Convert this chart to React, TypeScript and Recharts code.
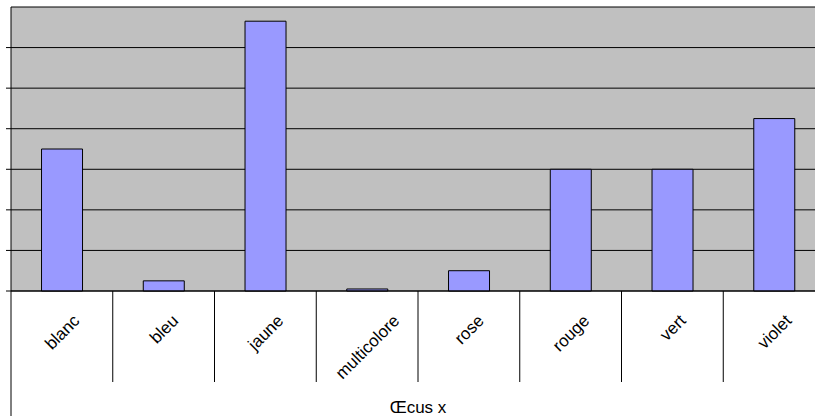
import { BarChart, Bar, XAxis, YAxis, CartesianGrid } from "recharts";

const categories = ["blanc", "bleu", "jaune", "multicolore", "rose", "rouge", "vert", "violet"];
const values = [3.5, 0.25, 6.65, 0.05, 0.5, 3, 3, 4.25];
const yTicks = [0, 1, 2, 3, 4, 5, 6];
const axisTitle = "Œcus x";

const data = categories.map((name, i) => ({ name, value: values[i] }));

// layout: plot runs past the right edge of the window, like the original
const W = 830;
const H = 416;
const MARGIN = { top: 7, right: 5, bottom: 0, left: 0 };
const Y_AXIS_W = 11;
const X_AXIS_H = 125;
const BAND = (W - MARGIN.left - MARGIN.right - Y_AXIS_W) / categories.length;
const AXIS_Y = H - MARGIN.bottom - X_AXIS_H;
const FONT = '"Liberation Sans", Arial, sans-serif';
const LABEL_SIZE = 17;
const LABEL_TOP = AXIS_Y + 22;

let measureCtx: CanvasRenderingContext2D | null = null;
function textWidth(s: string) {
  if (!measureCtx) measureCtx = document.createElement("canvas").getContext("2d");
  if (!measureCtx) return s.length * LABEL_SIZE * 0.5;
  measureCtx.font = `${LABEL_SIZE}px "Liberation Sans", Arial, sans-serif`;
  return measureCtx.measureText(s).width;
}

function EmptyTick() {
  return <g />;
}

// rotated labels, centred on the category, tops lined up
function CategoryTick(props: any) {
  const { x, index, payload } = props;
  const label = String(payload.value);
  const glyphH = LABEL_SIZE * 0.73;
  const w = textWidth(label);
  const tx = x + 0.3535 * (w + glyphH);
  const ty = LABEL_TOP + 0.707 * glyphH;
  return (
    <g>
      {index === 0 && (
        <line x1={x - BAND / 2} x2={x - BAND / 2} y1={AXIS_Y} y2={H} stroke="#000" />
      )}
      <line x1={x + BAND / 2} x2={x + BAND / 2} y1={AXIS_Y} y2={AXIS_Y + 91} stroke="#000" />
      <text
        x={tx}
        y={ty}
        textAnchor="end"
        transform={`rotate(-45 ${tx} ${ty})`}
        fontFamily={FONT}
        fontSize={LABEL_SIZE}
        fill="#000"
      >
        {label}
      </text>
    </g>
  );
}

function AxisTitle(props: any) {
  const { viewBox } = props;
  const cx = viewBox.x + viewBox.width / 2;
  return (
    <text x={cx} y={H - 3} textAnchor="middle" fontFamily={FONT} fontSize={17} fill="#000">
      {axisTitle}
    </text>
  );
}

export default function App() {
  return (
    <div
      style={{
        position: "absolute",
        top: 0,
        left: 0,
        width: 815,
        height: 416,
        overflow: "hidden",
        background: "#fff",
      }}
    >
      <BarChart width={W} height={H} data={data} margin={MARGIN} barCategoryGap="30%">
        <CartesianGrid vertical={false} fill="#C0C0C0" stroke="#000" fillOpacity={1} />
        <XAxis
          dataKey="name"
          height={X_AXIS_H}
          tickLine={false}
          axisLine={{ stroke: "#000" }}
          tick={<CategoryTick />}
          interval={0}
          label={<AxisTitle />}
        />
        <YAxis
          width={Y_AXIS_W}
          domain={[0, 7]}
          ticks={yTicks}
          tick={<EmptyTick />}
          tickSize={5}
          tickLine={{ stroke: "#000" }}
          axisLine={{ stroke: "#000" }}
        />
        <Bar dataKey="value" fill="#9999FF" stroke="#000" strokeWidth={1} isAnimationActive={false} />
      </BarChart>
    </div>
  );
}
